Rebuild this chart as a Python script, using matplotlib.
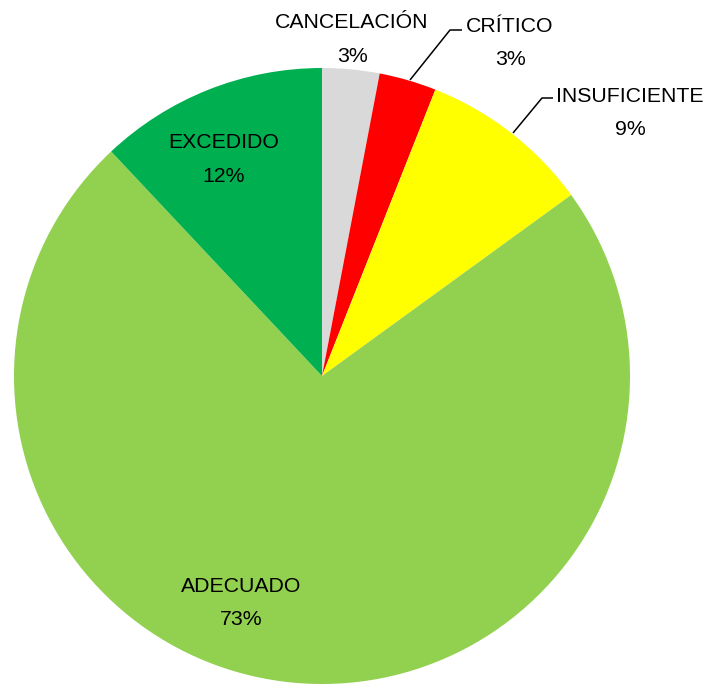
import matplotlib
matplotlib.use("Agg")
import matplotlib.pyplot as plt

categories = ["CANCELACIÓN", "CRÍTICO", "INSUFICIENTE", "ADECUADO", "EXCEDIDO"]
values = [3, 3, 9, 73, 12]
colors = ["#D9D9D9", "#FF0000", "#FFFF00", "#92D050", "#00B050"]

W, H = 705, 684
fig = plt.figure(figsize=(W / 100, H / 100), dpi=100)
ax = fig.add_axes([0, 0, 1, 1])
ax.set_xlim(0, W)
ax.set_ylim(0, H)
ax.set_aspect("equal")
ax.axis("off")

cx, cy_px, r = 322, 376, 308
ax.pie(values, colors=colors, startangle=90, counterclock=False,
       center=(cx, H - cy_px), radius=r, frame=True,
       wedgeprops=dict(linewidth=0))
ax.set_xlim(0, W)
ax.set_ylim(0, H)
ax.axis("off")

total = sum(values)
# label layout (pixel coordinates from top-left): x center, baseline of name, baseline of pct
label_layout = [
    (352, 28, 62),
    (510, 32, 65),
    (630, 102, 135),
    (241, 592, 625),
    (224, 148, 182),
]
font = dict(family=["Liberation Sans", "DejaVu Sans"], fontsize=15.3, color="#000000")
for name, v, (x, yb1, yb2) in zip(categories, values, label_layout):
    ax.text(x, H - yb1, name, ha="center", va="baseline", **font)
    ax.text(x, H - yb2, f"{round(100 * v / total)}%", ha="center", va="baseline", **font)

# leader lines (pixel coordinates)
leaders = [
    [(410, 80), (450, 30), (462, 30)],
    [(513, 133), (542, 98), (553, 98)],
]
for pts in leaders:
    ax.plot([p[0] for p in pts], [H - p[1] for p in pts], color="black", lw=1.1,
            solid_capstyle="butt")

fig.savefig("out.png", dpi=100)
